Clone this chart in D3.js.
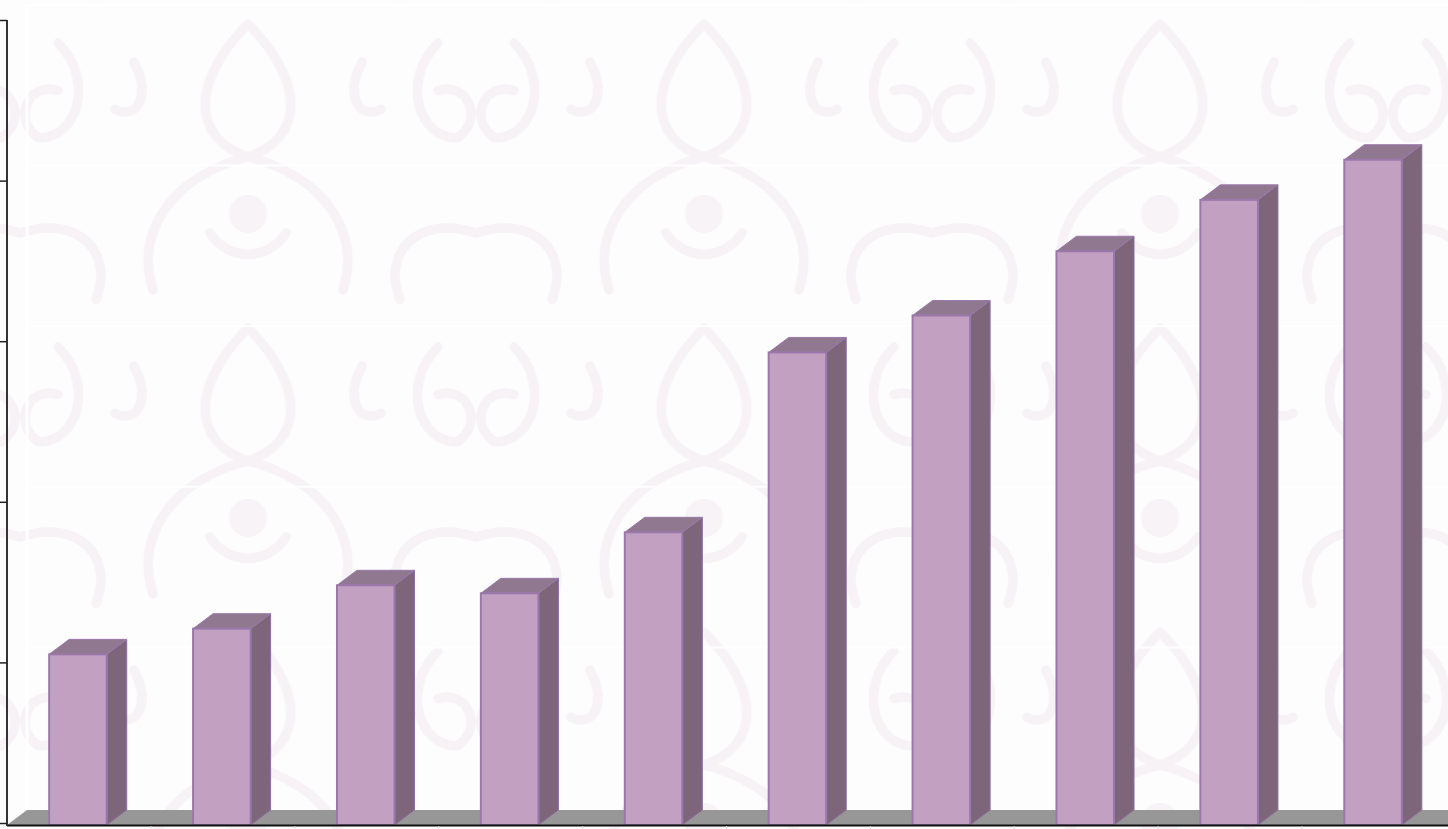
<!DOCTYPE html>
<html>
<head>
<meta charset="utf-8">
<script src="https://cdn.jsdelivr.net/npm/d3@7"></script>
<style>
  html, body { margin: 0; padding: 0; background: #fff; }
  #chart { width: 1448px; height: 829px; }
</style>
</head>
<body>
<div id="chart"></div>
<script>
// data (no labels shown, units are arbitrary)
var categories = ["1", "2", "3", "4", "5", "6", "7", "8", "9", "10"];
var values = [10.5, 12.1, 14.8, 14.3, 18.1, 29.3, 31.6, 35.6, 38.8, 41.3];
var tickValues = [0, 10, 20, 30, 40, 50];

var width = 1448;
var height = 829;
var depthX = 20, depthY = 15;
var axisX = 7;
var baseY = 825;

var svg = d3.select("#chart").append("svg")
    .attr("width", width)
    .attr("height", height);

// very faint damask-like background
var defs = svg.append("defs");
var pat = defs.append("pattern")
    .attr("id", "damask")
    .attr("patternUnits", "userSpaceOnUse")
    .attr("width", 240)
    .attr("height", 160)
    .attr("patternTransform", "translate(20,5) scale(1.9)");
pat.append("rect").attr("width", 240).attr("height", 160).attr("fill", "#fefdfe");
var swirl = [
  "M120,10 C90,40 90,70 120,80 C150,70 150,40 120,10",
  "M120,80 C80,90 60,120 70,150 M120,80 C160,90 180,120 170,150",
  "M20,20 C40,40 30,70 10,70 C-5,60 5,40 20,45",
  "M220,20 C200,40 210,70 230,70 C245,60 235,40 220,45",
  "M0,120 C30,110 50,130 40,155 M240,120 C210,110 190,130 200,155",
  "M60,30 C70,50 60,60 50,55 M180,30 C170,50 180,60 190,55",
  "M100,120 C110,135 130,135 140,120"
];
pat.selectAll("path").data(swirl).enter().append("path")
    .attr("d", function(d) { return d; })
    .attr("fill", "none")
    .attr("stroke", "#f6f2f6")
    .attr("stroke-width", 5)
    .attr("stroke-linecap", "round");
pat.append("circle").attr("cx", 120).attr("cy", 110).attr("r", 10).attr("fill", "#f7f3f7");

svg.append("rect")
    .attr("x", 0).attr("y", 0)
    .attr("width", width).attr("height", height)
    .attr("fill", "url(#damask)");

// scales
var x = d3.scaleBand()
    .domain(categories)
    .range([axisX, 1446])
    .padding(0);

var y = d3.scaleLinear()
    .domain([0, 50])
    .range([823, 20]);

var barW = x.bandwidth() * 0.4;

// back wall gridlines (white over the pattern)
svg.selectAll(".grid")
    .data(tickValues.slice(1))
    .enter().append("line")
    .attr("class", "grid")
    .attr("x1", axisX + depthX).attr("x2", width)
    .attr("y1", function(d) { return y(d) - depthY; })
    .attr("y2", function(d) { return y(d) - depthY; })
    .attr("stroke", "#ffffff")
    .attr("stroke-width", 2);
svg.append("line")
    .attr("x1", axisX + depthX).attr("x2", axisX + depthX)
    .attr("y1", y(50) - depthY).attr("y2", baseY - depthY)
    .attr("stroke", "#ffffff")
    .attr("stroke-width", 3);

// floor
svg.append("path")
    .attr("d", "M" + (axisX + depthX) + "," + (baseY - depthY) +
               " L" + width + "," + (baseY - depthY) +
               " L" + width + "," + baseY +
               " L" + axisX + "," + baseY + "Z")
    .attr("fill", "#979797");

// bars
var bars = svg.selectAll(".bar")
    .data(values)
    .enter().append("g")
    .attr("class", "bar");

function bx(d, i) { return x(categories[i]) + x.bandwidth() / 2 - barW / 2 - 1; }

// side face
bars.append("path")
    .attr("d", function(d, i) {
      var x0 = bx(d, i) + barW, yt = y(d);
      return "M" + x0 + "," + yt + " L" + (x0 + depthX) + "," + (yt - depthY) +
             " L" + (x0 + depthX) + "," + (baseY - depthY) + " L" + x0 + "," + baseY + "Z";
    })
    .attr("fill", "#7d6679")
    .attr("stroke", "#8f70a0")
    .attr("stroke-width", 1);

// top face
bars.append("path")
    .attr("d", function(d, i) {
      var x0 = bx(d, i), yt = y(d);
      return "M" + x0 + "," + yt + " L" + (x0 + depthX) + "," + (yt - depthY) +
             " L" + (x0 + barW + depthX) + "," + (yt - depthY) + " L" + (x0 + barW) + "," + yt + "Z";
    })
    .attr("fill", "#907990")
    .attr("stroke", "#9a78aa")
    .attr("stroke-width", 1);

// front face
bars.append("rect")
    .attr("x", bx)
    .attr("y", function(d) { return y(d); })
    .attr("width", barW)
    .attr("height", function(d) { return baseY - y(d); })
    .attr("fill", "#c1a0c1")
    .attr("stroke", "#9b78ab")
    .attr("stroke-width", 2);

// baseline and category ticks
svg.append("line")
    .attr("x1", axisX).attr("x2", width)
    .attr("y1", baseY + 0.5).attr("y2", baseY + 0.5)
    .attr("stroke", "#111")
    .attr("stroke-width", 2);
svg.selectAll(".ctick")
    .data(categories.slice(1))
    .enter().append("line")
    .attr("class", "ctick")
    .attr("x1", function(d) { return x(d); })
    .attr("x2", function(d) { return x(d); })
    .attr("y1", baseY + 1).attr("y2", height)
    .attr("stroke", "#ddd")
    .attr("stroke-width", 1);

// value axis on the left, no labels
var yAxis = d3.axisLeft(y)
    .tickValues(tickValues)
    .tickSize(7)
    .tickFormat("");
var ga = svg.append("g")
    .attr("transform", "translate(" + axisX + ",0)")
    .call(yAxis);
ga.select(".domain")
    .attr("stroke", "#333")
    .attr("stroke-width", 2)
    .attr("d", "M0," + y(50) + "V" + (baseY + 1));
ga.selectAll(".tick line")
    .attr("stroke", "#222")
    .attr("stroke-width", 1.5);
</script>
</body>
</html>
